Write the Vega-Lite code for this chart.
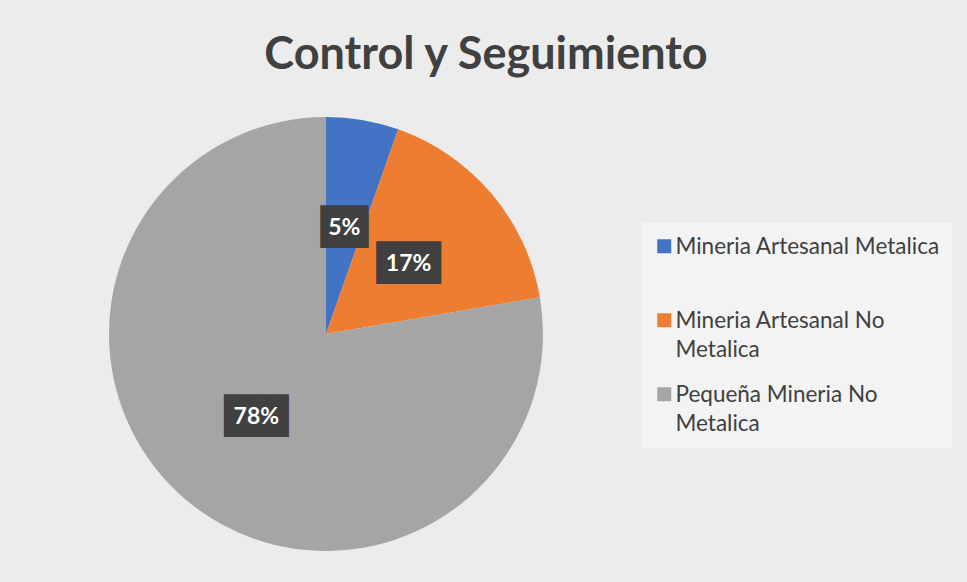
{
  "$schema": "https://vega.github.io/schema/vega-lite/v6.json",
  "width": 652,
  "height": 468,
  "autosize": {"type": "none"},
  "padding": {"left": 0, "top": 100, "right": 315, "bottom": 14},
  "background": "#ececec",
  "config": {"view": {"stroke": null}},
  "title": {
    "text": "Control y Seguimiento",
    "font": "Lato",
    "fontSize": 45,
    "fontWeight": "bold",
    "color": "#404040",
    "anchor": "middle",
    "baseline": "alphabetic",
    "offset": 28,
    "dx": 160,
    "dy": 42
  },
  "data": {
    "values": [
      {"category": "Mineria Artesanal Metalica", "value": 0.054},
      {"category": "Mineria Artesanal No Metalica", "value": 0.169},
      {"category": "Pequeña Mineria No Metalica", "value": 0.777}
    ]
  },
  "encoding": {
    "theta": {"field": "value", "type": "quantitative", "stack": true},
    "order": {"field": "category", "sort": "ascending"}
  },
  "layer": [
    {
      "mark": {"type": "arc", "outerRadius": 217},
      "encoding": {
        "color": {
          "field": "category",
          "type": "nominal",
          "scale": {
            "domain": ["Mineria Artesanal Metalica", "Mineria Artesanal No Metalica", "Pequeña Mineria No Metalica"],
            "range": ["#4472C4", "#ED7D31", "#A5A5A5"]
          },
          "legend": {
            "title": null,
            "orient": "none",
            "legendX": 641,
            "legendY": 123,
            "symbolType": "square",
            "symbolSize": 196,
            "symbolStrokeWidth": 0,
            "symbolOpacity": 1,
            "labelFont": "Lato",
            "labelFontSize": 22.5,
            "labelColor": "#404040",
            "labelOffset": 0,
            "labelLimit": 400,
            "labelBaseline": "alphabetic",
            "padding": 12,
            "fillColor": "#f3f3f3",
            "rowPadding": 21,
            "gridAlign": "all",
            "labelExpr": "datum.label == 'Mineria Artesanal No Metalica' ? ['Mineria Artesanal No', 'Metalica'] : datum.label == 'Pequeña Mineria No Metalica' ? ['Pequeña Mineria No', 'Metalica'] : datum.label",
            "encode": {
              "labels": {"update": {"lineHeight": {"value": 29}, "dy": {"value": 8}}}
            }
          }
        }
      }
    },
    {
      "transform": [{"calculate": "datum.value < 0.1 ? '▕██▏' : '▐██▌'", "as": "box"}],
      "mark": {"type": "text", "radius": 108, "font": "DejaVu Sans Mono", "fontSize": 36, "fill": "#404040"},
      "encoding": {"text": {"field": "box"}}
    },
    {
      "mark": {"type": "text", "radius": 108, "font": "Lato", "fontSize": 23, "fontWeight": "bold", "fill": "#ffffff"},
      "encoding": {"text": {"field": "value", "type": "quantitative", "format": ".0%"}}
    }
  ]
}
